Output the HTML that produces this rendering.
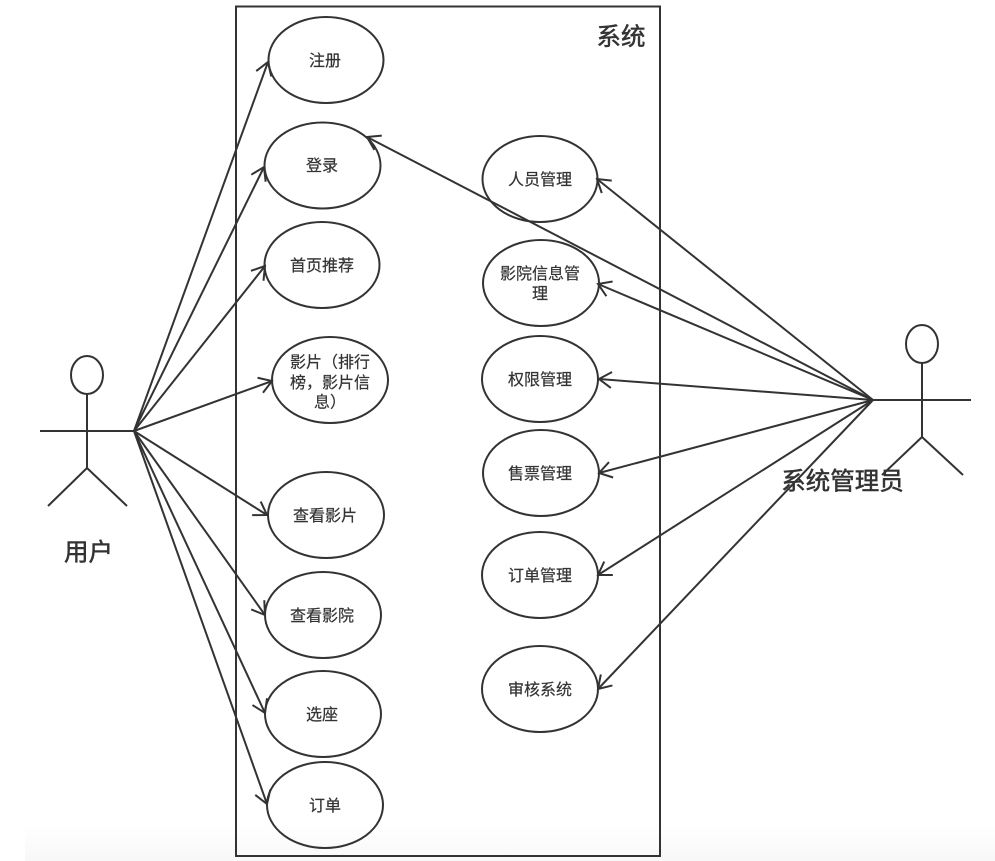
<!DOCTYPE html>
<html lang="zh"><head><meta charset="utf-8"><style>
html,body{margin:0;padding:0;background:#fff}
svg{display:block}
text{font-family:"Liberation Sans","Noto Sans CJK SC",sans-serif;fill:#333;stroke:#333;stroke-width:.2px;text-anchor:middle}
.s{font-size:16px}
.l{font-size:24.500px;stroke-width:.5px}
</style></head><body>
<svg width="995" height="861" viewBox="0 0 995 861" xmlns="http://www.w3.org/2000/svg">
<defs>
<linearGradient id="g" x1="0" y1="0" x2="0" y2="1"><stop offset="0" stop-color="#fff"/><stop offset="1" stop-color="#f8f8f8"/></linearGradient>
<marker id="a" markerUnits="userSpaceOnUse" markerWidth="30" markerHeight="30" refX="15" refY="15" orient="auto" overflow="visible">
<path d="M2.500 7L15 15L2.500 23" fill="none" stroke="#333" stroke-width="2"/>
</marker>
</defs>
<rect width="995" height="861" fill="#fff"/>
<rect x="25" y="825" width="970" height="36" fill="url(#g)"/>
<rect x="236" y="6.500" width="424" height="849.500" fill="none" stroke="#333" stroke-width="2"/>
<g fill="none" stroke="#333" stroke-width="2">
<ellipse cx="326" cy="60" rx="57.500" ry="43"/>
<ellipse cx="322.500" cy="165.500" rx="58" ry="43"/>
<ellipse cx="322" cy="265" rx="57.500" ry="43"/>
<ellipse cx="330" cy="380" rx="58" ry="43"/>
<ellipse cx="326" cy="515" rx="58" ry="43"/>
<ellipse cx="323" cy="615" rx="58" ry="43"/>
<ellipse cx="323" cy="714" rx="58" ry="43"/>
<ellipse cx="325" cy="805" rx="58" ry="43"/>
<ellipse cx="540" cy="179" rx="57.500" ry="43"/>
<ellipse cx="541" cy="283" rx="58" ry="43"/>
<ellipse cx="540" cy="379" rx="58" ry="43"/>
<ellipse cx="541" cy="473" rx="58" ry="43"/>
<ellipse cx="540" cy="575" rx="58" ry="43"/>
<ellipse cx="540" cy="689" rx="58" ry="43"/>
<ellipse cx="87" cy="375" rx="16" ry="19"/>
<path d="M87 394V468M40 431H134M87 468L48 506M87 468L127 506"/>
<ellipse cx="922" cy="344" rx="16" ry="19"/>
<path d="M922 363V437M873 400H971M922 437L882 475M922 437L963 475"/>
<g marker-end="url(#a)">
<path d="M134 431L268 62"/>
<path d="M134 431L264 167"/>
<path d="M134 431L265 266"/>
<path d="M134 431L272 381"/>
<path d="M134 431L267 515"/>
<path d="M134 431L265 615"/>
<path d="M134 431L265 713"/>
<path d="M134 431L267 804"/>
<path d="M873 400L367 137"/>
<path d="M873 400L597 179"/>
<path d="M873 400L598 284"/>
<path d="M873 400L599 379"/>
<path d="M873 400L599 473"/>
<path d="M873 400L598 575"/>
<path d="M873 400L598 689"/>
</g>
</g>
<text class="s" x="325" y="66">注册</text>
<text class="s" x="322" y="171">登录</text>
<text class="s" x="322" y="271">首页推荐</text>
<text class="s" x="330" y="367.500">影片（排行</text>
<text class="s" x="330" y="388">榜，影片信</text>
<text class="s" x="330" y="407.500">息）</text>
<text class="s" x="325" y="521">查看影片</text>
<text class="s" x="322" y="621">查看影院</text>
<text class="s" x="322" y="720">选座</text>
<text class="s" x="325" y="811">订单</text>
<text class="s" x="540" y="185">人员管理</text>
<text class="s" x="540" y="279">影院信息管</text>
<text class="s" x="540" y="299">理</text>
<text class="s" x="540" y="385">权限管理</text>
<text class="s" x="540" y="479">售票管理</text>
<text class="s" x="540" y="581">订单管理</text>
<text class="s" x="540" y="695">审核系统</text>
<text class="l" x="621" y="45">系统</text>
<text class="l" x="88.500" y="560.500">用户</text>
<text class="l" x="842.500" y="489.500">系统管理员</text>
</svg>
</body></html>
